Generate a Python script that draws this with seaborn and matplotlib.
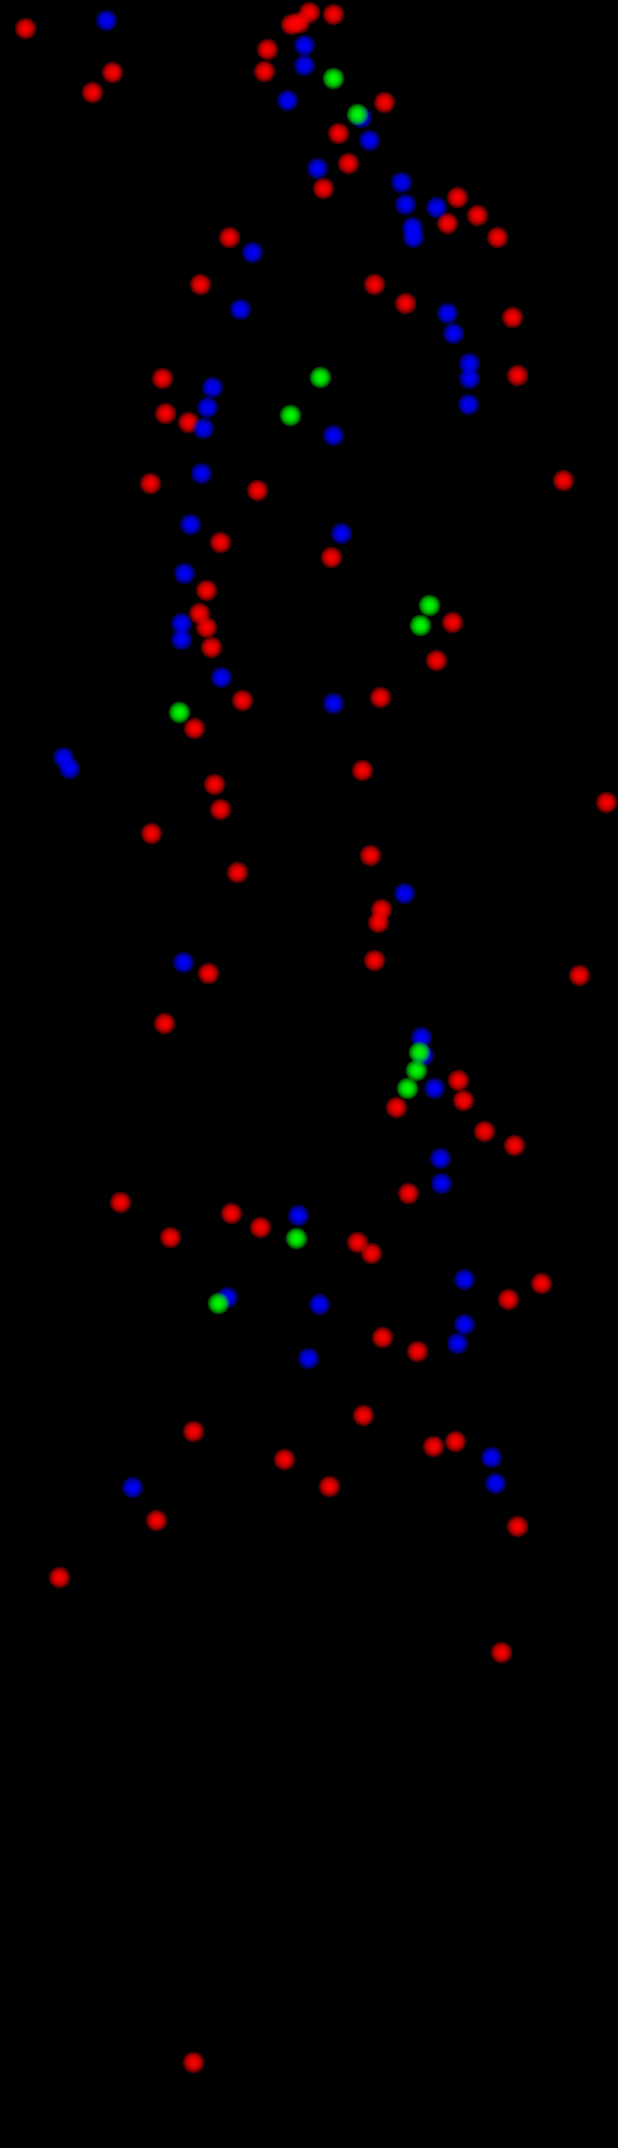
import numpy as np
import pandas as pd
import matplotlib
matplotlib.use("Agg")
import matplotlib.pyplot as plt
import seaborn as sns

# ---- data (pixel-like coordinates, y downward) ----
red_x = [25, 291, 299, 309, 333, 267, 264, 112, 92, 384, 338, 348, 323, 457, 477, 447, 497, 229,
         200, 374, 405, 512, 162, 517, 165, 188, 150, 257, 563, 220, 331, 206, 199, 206, 211, 452,
         436, 242, 380, 194, 362, 606, 214, 220, 151, 370, 237, 381, 378, 374, 579, 208, 164, 458,
         463, 396, 484, 514, 408, 120, 231, 260, 170, 357, 371, 541, 508, 382, 417, 363, 193, 433,
         455, 284, 329, 156, 517, 59, 501, 193]
red_y = [28, 24, 22, 12, 14, 49, 71, 72, 92, 102, 133, 163, 188, 197, 215, 223, 237, 237,
         284, 284, 303, 317, 378, 375, 413, 422, 483, 490, 480, 542, 557, 590, 613, 627, 647, 622,
         660, 700, 697, 728, 770, 802, 784, 809, 833, 855, 872, 909, 922, 960, 975, 973, 1023, 1080,
         1100, 1107, 1131, 1145, 1193, 1202, 1213, 1227, 1237, 1242, 1253, 1283, 1299, 1337, 1351,
         1415, 1431, 1446, 1441, 1459, 1486, 1520, 1526, 1577, 1652, 2062]

blue_x = [106, 304, 304, 287, 361, 369, 317, 401, 405, 436, 412, 413, 252, 240, 447, 453, 469, 469,
          468, 212, 207, 203, 333, 201, 190, 341, 184, 181, 181, 221, 333, 63, 69, 404, 183, 421,
          423, 434, 440, 441, 298, 464, 227, 319, 464, 457, 308, 491, 495, 132]
blue_y = [20, 45, 65, 100, 117, 140, 168, 182, 204, 207, 227, 237, 252, 309, 313, 333, 363, 378,
          404, 387, 407, 428, 435, 473, 524, 533, 573, 623, 639, 677, 703, 757, 768, 893, 962, 1037,
          1055, 1088, 1158, 1183, 1215, 1279, 1297, 1304, 1324, 1343, 1358, 1457, 1483, 1487]

green_x = [333, 357, 320, 290, 429, 420, 179, 419, 416, 407, 296, 218]
green_y = [78, 114, 377, 415, 605, 625, 712, 1052, 1070, 1088, 1238, 1303]

series_colors = {"red": "#ff0000", "blue": "#0000ff", "green": "#00ff00"}

df = pd.concat([
    pd.DataFrame({"x": red_x, "y": red_y, "series": "red"}),
    pd.DataFrame({"x": blue_x, "y": blue_y, "series": "blue"}),
    pd.DataFrame({"x": green_x, "y": green_y, "series": "green"}),
], ignore_index=True)

W, H, DPI = 618, 2148, 100
fig = plt.figure(figsize=(W / DPI, H / DPI), dpi=DPI, facecolor="black")
ax = fig.add_axes([0, 0, 1, 1])
ax.set_facecolor("black")

# glow: stacked translucent discs, layers concentrated near the core
t = np.linspace(1, 0, 16)
radii = 2.5 + 8.5 * t ** 1.6
for name in ["red", "blue", "green"]:
    sub = df[df["series"] == name]
    for r in radii:
        s = (2 * r * 72 / DPI) ** 2
        sns.scatterplot(data=sub, x="x", y="y", color=series_colors[name], s=s,
                        alpha=0.2, linewidth=0, legend=False, ax=ax)

ax.set_xlim(0, W)
ax.set_ylim(H, 0)
ax.set_axis_off()
fig.savefig("out.png", dpi=DPI, facecolor="black")
